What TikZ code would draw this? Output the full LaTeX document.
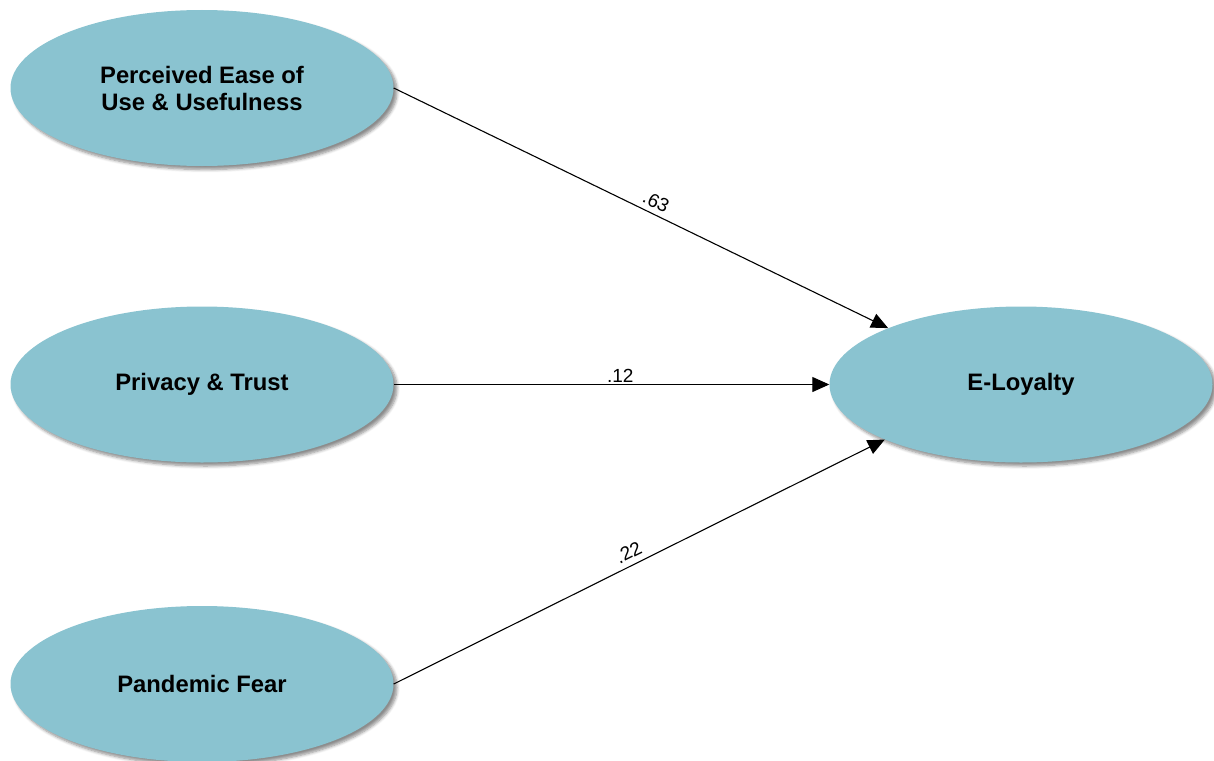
\documentclass[tikz,border=0pt]{standalone}
\usepackage{fontspec}
\setmainfont{Liberation Sans}
\usetikzlibrary{shapes.geometric,arrows.meta,shadows.blur}
\definecolor{latent}{RGB}{138,195,208}
\tikzset{
  construct/.style={ellipse, fill=latent, draw=none, inner sep=0pt,
    minimum width=383pt, minimum height=156pt, align=center,
    font=\bfseries\fontsize{23.8}{27}\selectfont,
    blur shadow={shadow xshift=3.5pt, shadow yshift=-3.5pt,
      shadow blur radius=3pt, shadow blur steps=6, shadow opacity=45}},
  path/.style={draw=black, line width=1.1pt,
    -{Triangle[length=17pt,width=15pt]}},
  coef/.style={font=\fontsize{19}{22}\selectfont, sloped, above,
    inner sep=2pt, pos=0.53}
}
\begin{document}
\begin{tikzpicture}[x=1pt,y=-1pt]
  \useasboundingbox (0,0) rectangle (1214,760);
  \node[construct] (peou) at (202,88)  {Perceived Ease of\\Use \& Usefulness};
  \node[construct] (pt)   at (202,384.5) {Privacy \& Trust};
  \node[construct] (pf)   at (202,684) {Pandemic Fear};
  \node[construct] (el)   at (1021,384.5) {E-Loyalty};
  \draw[path] (peou.east) -- node[coef, pos=0.52, yshift=3pt] {.63} (el.157.8);
  \draw[path] (pt.east)   -- node[coef, pos=0.52, inner sep=1pt] {.12} (el.west);
  \draw[path] (pf.east)   -- node[coef, pos=0.49, yshift=4pt] {.22} (el.202.2);
\end{tikzpicture}
\end{document}
